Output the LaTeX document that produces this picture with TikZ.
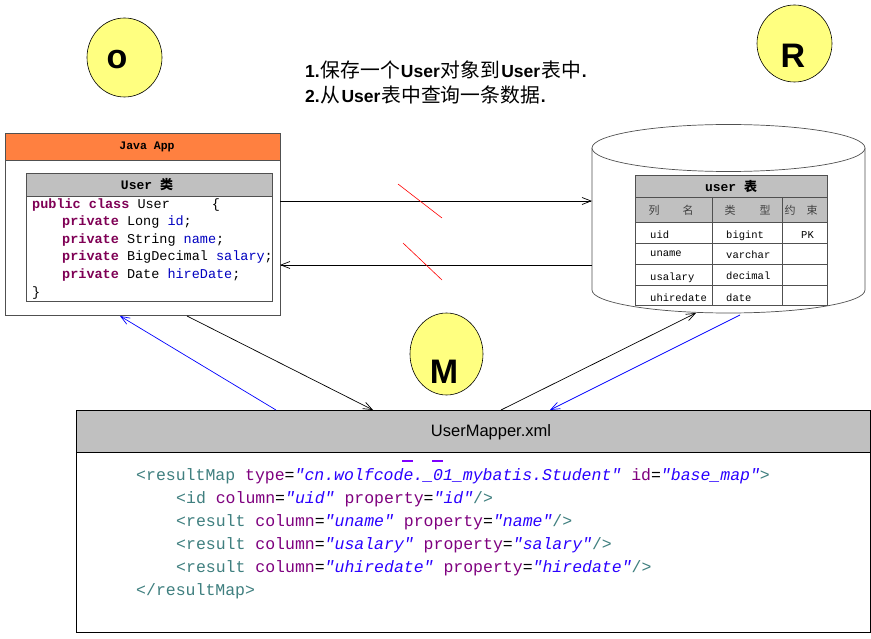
\documentclass[tikz,border=0pt]{standalone}
\usepackage{fontspec}
\setmainfont{Liberation Sans}
\newfontfamily\cjk{Noto Sans CJK SC}
\newfontfamily\mono{Liberation Mono}
\usetikzlibrary{shapes.geometric,arrows.meta}
\definecolor{orng}{HTML}{FF8040}
\definecolor{hdr}{HTML}{C0C0C0}
\definecolor{yel}{HTML}{FFFF80}
\definecolor{kwc}{HTML}{7F0055}
\definecolor{idc}{HTML}{0000C0}
\definecolor{tagc}{HTML}{3F7F7F}
\definecolor{attc}{HTML}{7F007F}
\definecolor{valc}{HTML}{2A00FF}
\definecolor{bord}{HTML}{505050}
\definecolor{dashc}{HTML}{7F00FF}
\newcommand\jk[1]{\textcolor{kwc}{\bfseries #1}}
\newcommand\jv[1]{\textcolor{idc}{#1}}
\newcommand\xt[1]{\textcolor{tagc}{#1}}
\newcommand\xa[1]{\textcolor{attc}{#1}}
\newcommand\xv[1]{\textcolor{valc}{\itshape #1}}
\newcommand\zh[1]{\hspace{1pt}{\cjk\fontsize{19.8}{20}\selectfont #1}\hspace{1pt}}
\tikzset{
  box/.style={draw=bord, line width=0.8pt, inner sep=0pt, anchor=north west},
  arr/.style={line width=0.7pt, -{Straight Barb[length=9pt,width=7pt]}},
  blarr/.style={arr, draw=blue},
  circ/.style={draw, ellipse, fill=yel, inner sep=0pt, line width=0.6pt},
  letter/.style={inner sep=0pt, font=\fontsize{34}{34}\selectfont\bfseries},
  jcode/.style={anchor=base west, inner sep=0pt, font=\mono\fontsize{13.5}{16}\selectfont},
  xcode/.style={anchor=base west, inner sep=0pt, font=\mono\fontsize{16.5}{18}\selectfont},
  tcell/.style={anchor=base west, inner sep=0pt, font=\mono\fontsize{10.5}{12}\selectfont},
  thead/.style={inner sep=0pt, text=black!75, font=\cjk\fontsize{11}{12}\selectfont},
  slash/.style={draw=red, line width=0.6pt},
  task/.style={anchor=west, inner sep=0pt, font=\fontsize{17.5}{20}\selectfont},
}
\begin{document}
\begin{tikzpicture}[x=1pt,y=-1pt]
\useasboundingbox (0,0) rectangle (871,639);

% circles
\node[circ, minimum width=75pt, minimum height=79pt] (Oc) at (124.5,57.5) {};
\node[letter] (Ol) at (117,60) {o};
\node[circ, minimum width=75pt, minimum height=77pt] (Rc) at (794.5,43.5) {};
\node[letter] (Rl) at (793,56) {R};
\node[circ, minimum width=73pt, minimum height=82pt] (Mc) at (446.5,354) {};
\node[letter] (Ml) at (444,372) {M};

% task text
\node[task] (t1) at (305,70)
  {\textbf{1.}\zh{保存一个}\textbf{User}\zh{对象到}\textbf{User}\zh{表中}\textbf{.}};
\node[task] (t2) at (305,95)
  {\textbf{2.}\zh{从}\textbf{User}\zh{表中查询一条数据}\textbf{.}};

% Java App
\node[box, fill=white, minimum width=275pt, minimum height=182pt] (app) at (5,133) {};
\node[box, fill=orng, minimum width=275pt, minimum height=27pt] (apph) at (5,133) {};
\node[inner sep=0pt, font=\mono\fontsize{11.5}{12}\selectfont\bfseries] (appt) at (147,146.5) {Java App};
\node[box, fill=white, minimum width=246pt, minimum height=128pt] (cls) at (26,173) {};
\node[box, fill=hdr, minimum width=246pt, minimum height=23pt] (clsh) at (26,173) {};
\node[inner sep=0pt, font=\fontsize{13}{14}\selectfont] (clst) at (147,184.5) {{\mono\bfseries User }{\cjk\bfseries 类}};
\node[jcode] (j1) at (32,209) {\jk{public class} User\hspace{3.1em}\{};
\node[jcode] (j2) at (62,226) {\jk{private} Long \jv{id};};
\node[jcode] (j3) at (62,243.5) {\jk{private} String \jv{name};};
\node[jcode] (j4) at (62,261) {\jk{private} BigDecimal \jv{salary};};
\node[jcode] (j5) at (62,279) {\jk{private} Date \jv{hireDate};};
\node[jcode] (j6) at (32,297) {\}};

% database cylinder
\draw[draw=bord, fill=white, line width=0.7pt] (592,148) -- (592,290)
  arc[start angle=180, end angle=360, x radius=136.5pt, y radius=23pt] -- (865,148);
\draw[draw=bord, fill=white, line width=0.7pt] (728.5,148) ellipse [x radius=136.5pt, y radius=23.5pt];

% table
\node[box, fill=white, minimum width=192pt, minimum height=130pt] (tbl) at (635,175) {};
\node[box, fill=hdr, minimum width=192pt, minimum height=22pt] (tblh) at (635,175) {};
\node[box, fill=hdr, minimum width=192pt, minimum height=25pt] (tblc) at (635,197) {};
\draw[bord, line width=0.7pt] (635,243) -- (827,243) (635,264) -- (827,264) (635,285) -- (827,285)
  (712,197) -- (712,305) (782,197) -- (782,305);
\node[inner sep=0pt, font=\fontsize{13}{14}\selectfont] (tblt) at (731,187) {{\mono\bfseries user }{\cjk\bfseries 表}};
\node[thead] (h1a) at (654,210) {列};
\node[thead] (h1b) at (688,210) {名};
\node[thead] (h2a) at (730,210) {类};
\node[thead] (h2b) at (765,210) {型};
\node[thead] (h3a) at (790,210) {约};
\node[thead] (h3b) at (812,210) {束};
\node[tcell] (c11) at (650,238.5) {uid};
\node[tcell] (c12) at (726,238.5) {bigint};
\node[tcell] (c13) at (801,238.5) {PK};
\node[tcell] (c21) at (650,257) {uname};
\node[tcell] (c22) at (726,259) {varchar};
\node[tcell] (c31) at (650,280.5) {usalary};
\node[tcell] (c32) at (726,280) {decimal};
\node[tcell] (c41) at (650,302) {uhiredate};
\node[tcell] (c42) at (726,302) {date};

% XML mapper
\node[box, draw=black, fill=white, minimum width=794pt, minimum height=222pt] (xml) at (76,410) {};
\node[box, draw=black, fill=hdr, minimum width=794pt, minimum height=42pt] (xmlh) at (76,410) {};
\node[inner sep=0pt, font=\fontsize{16.5}{18}\selectfont] (xmlt) at (491,432) {UserMapper.xml};
\draw[dashc, line width=1.2pt] (402,461) -- (413,461) (432,461) -- (443,461);
\node[xcode] (x1) at (136,480) {\xt{<resultMap} \xa{type}=\xv{"cn.wolfcode.\_01\_mybatis.Student"} \xa{id}=\xv{"base\_map"}\xt{>}};
\node[xcode] (x2) at (176,503) {\xt{<id} \xa{column}=\xv{"uid"} \xa{property}=\xv{"id"}\xt{/>}};
\node[xcode] (x3) at (176,526) {\xt{<result} \xa{column}=\xv{"uname"} \xa{property}=\xv{"name"}\xt{/>}};
\node[xcode] (x4) at (176,549) {\xt{<result} \xa{column}=\xv{"usalary"} \xa{property}=\xv{"salary"}\xt{/>}};
\node[xcode] (x5) at (176,572) {\xt{<result} \xa{column}=\xv{"uhiredate"} \xa{property}=\xv{"hiredate"}\xt{/>}};
\node[xcode] (x6) at (136,595) {\xt{</resultMap>}};

% connector end points
\coordinate (appR1) at (280,201);
\coordinate (appR2) at (280,265);
\coordinate (dbL1) at (592,201);
\coordinate (dbL2) at (592,265);
\coordinate (appB1) at (120,316);
\coordinate (appB2) at (187,316);
\coordinate (xmlT1) at (276,410);
\coordinate (xmlT2) at (373,410);
\coordinate (xmlT3) at (501,410);
\coordinate (xmlT4) at (550,410);
\coordinate (dbB1) at (696,313);
\coordinate (dbB2) at (740,315);

\draw[arr] (appR1) -- (dbL1);
\draw[arr] (dbL2) -- (appR2);
\draw[arr] (appB2) -- (xmlT2);
\draw[blarr] (xmlT1) -- (appB1);
\draw[arr] (xmlT3) -- (dbB1);
\draw[blarr] (dbB2) -- (xmlT4);

% red slashes
\draw[slash] (398,184) -- (442,218);
\draw[slash] (403,243) -- (442,280);
\end{tikzpicture}
\end{document}
